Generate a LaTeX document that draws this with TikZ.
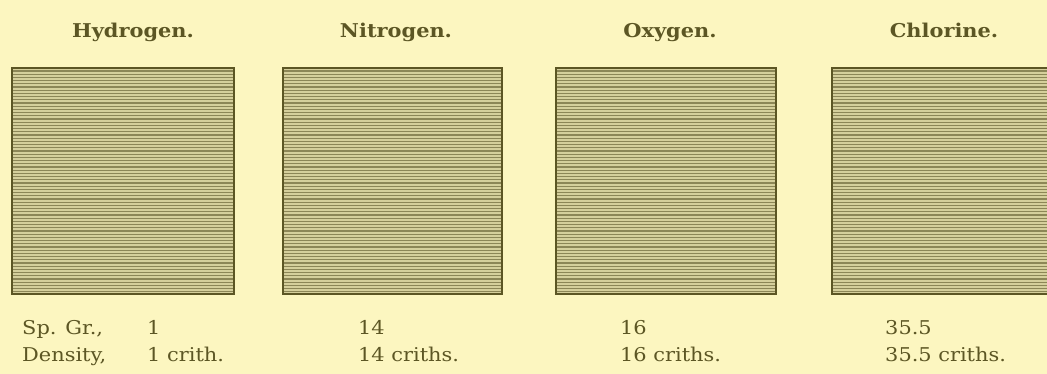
\documentclass[tikz,border=0pt]{standalone}
\usepackage{fontspec}
\newfontfamily\oldface{DejaVu Serif}[FakeStretch=1.1]
\usetikzlibrary{positioning}
\definecolor{paper}{RGB}{252,246,192}
\definecolor{ink}{RGB}{92,86,36}
\definecolor{hatch}{RGB}{140,134,86}
\tikzset{gas/.style={font=\oldface\bfseries\fontsize{19}{22}\selectfont,text=ink,anchor=base,inner sep=0pt},
  val/.style={font=\oldface\fontsize{19}{22}\selectfont,text=ink,anchor=base west,inner sep=0pt}}

\begin{document}
\begin{tikzpicture}[x=1pt,y=-1pt]
\fill[paper](0,0)rectangle(1047,374);
\clip(0,0)rectangle(1047,374);
% the four jars of gas
\foreach \n/\x/\w in {h/12/222,n/283/219,o/556/220,c/832/225}{
  \fill[hatch!35!paper](\x,68)rectangle(\x+\w,294);
  \foreach \yy in {71,74.2,...,292}\draw[hatch,line width=1.2pt](\x,\yy)--(\x+\w,\yy);
  \draw[ink,line width=2pt](\x,68)rectangle(\x+\w,294);
}
% names
\node[gas](th) at (133,38){Hydrogen.};
\node[gas](tn) at (396,38){Nitrogen.};
\node[gas](to) at (670,38){Oxygen.};
\node[gas](tc) at (944,38){Chlorine.};
% weights
\node[val](sp) at (22,334){Sp. Gr.,};
\node[val](dn) at (22,361){Density,};
\node[val](sh) at (147,334){1};
\node[val](dh) at (147,361){1 crith.};
\node[val](sn) at (358,334){14};
\node[val](dn2) at (358,361){14 criths.};
\node[val](so) at (620,334){16};
\node[val](do) at (620,361){16 criths.};
\node[val](sc) at (885,334){35.5};
\node[val](dc) at (885,361){35.5 criths.};
\end{tikzpicture}
\end{document}
